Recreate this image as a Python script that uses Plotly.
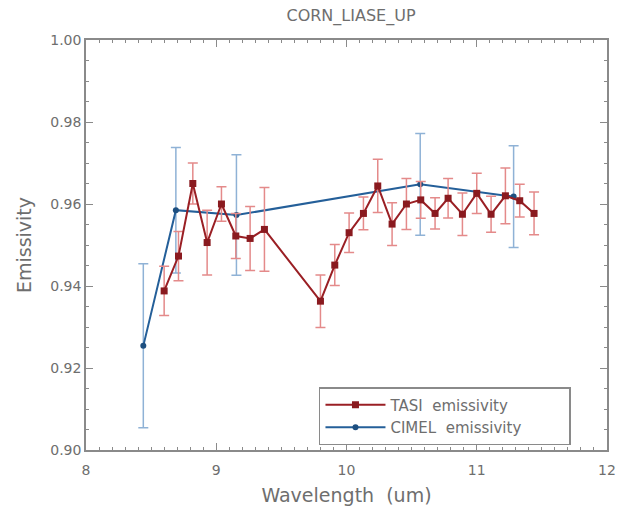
import plotly.graph_objects as go

# TASI data
x_tasi = [8.60, 8.71, 8.82, 8.93, 9.04, 9.15, 9.26, 9.37, 9.80, 9.91, 10.02, 10.13,
          10.24, 10.35, 10.46, 10.57, 10.68, 10.78, 10.89, 11.00, 11.11, 11.22, 11.33, 11.44]
y_tasi = [0.9388, 0.9473, 0.9650, 0.9506, 0.9600, 0.9522, 0.9516, 0.9538, 0.9363, 0.9451,
          0.9530, 0.9577, 0.9644, 0.9551, 0.9600, 0.9610, 0.9577, 0.9614, 0.9575, 0.9626,
          0.9575, 0.9620, 0.9608, 0.9577]
err_tasi = [0.0060, 0.0060, 0.0050, 0.0079, 0.0042, 0.0055, 0.0078, 0.0102, 0.0064, 0.0050,
            0.0048, 0.0040, 0.0065, 0.0052, 0.0062, 0.0045, 0.0038, 0.0048, 0.0052, 0.0049,
            0.0044, 0.0068, 0.0040, 0.0052]

# CIMEL data
x_cimel = [8.44, 8.69, 9.155, 10.566, 11.283]
y_cimel = [0.9254, 0.9585, 0.9573, 0.9648, 0.9618]
err_cimel = [0.0200, 0.0153, 0.0147, 0.0124, 0.0124]

x_ticks = [8, 9, 10, 11, 12]
y_ticks = [0.90, 0.92, 0.94, 0.96, 0.98, 1.00]

FONT = "DejaVu Sans"
TXT = "#6e6e6e"
AX = "#8a8a8a"
PAD = "\u00a0" * 9

fig = go.Figure()
fig.add_trace(go.Scatter(
    x=x_cimel, y=y_cimel, mode="lines+markers", name="CIMEL  emissivity" + PAD,
    line=dict(color="#245f99", width=2),
    marker=dict(symbol="circle", size=6, color="#1d4f80"),
    error_y=dict(type="data", array=err_cimel, color="#8fb2d6", thickness=1.5, width=5),
    legendrank=2,
))
fig.add_trace(go.Scatter(
    x=x_tasi, y=y_tasi, mode="lines+markers", name="TASI  emissivity",
    line=dict(color="#9a1f24", width=2),
    marker=dict(symbol="square", size=7, color="#8a1a1f"),
    error_y=dict(type="data", array=err_tasi, color="#e48a8a", thickness=1.5, width=5),
    legendrank=1,
))

axis_common = dict(
    showline=True, linecolor=AX, linewidth=1.5, mirror="allticks",
    ticks="inside", ticklen=7, tickcolor=AX, tickwidth=1,
    showgrid=False, zeroline=False,
    tickfont=dict(family=FONT, size=14, color=TXT),
)

fig.update_layout(
    width=626, height=516,
    margin=dict(l=86, r=10, t=40, b=66),
    plot_bgcolor="white", paper_bgcolor="white",
    title=dict(text="CORN_LIASE_UP", x=(86 + 616) / 2 / 626, xanchor="center",
               y=1 - 15 / 516, yanchor="middle",
               font=dict(family=FONT, size=16, color=TXT)),
    xaxis=dict(range=[8, 12], tickvals=x_ticks, ticktext=[str(v) for v in x_ticks],
               minor=dict(ticks="inside", ticklen=3, dtick=0.1, tickcolor=AX, showgrid=False),
               ticklabelstandoff=6,
               title=dict(text="Wavelength  (um)", font=dict(family=FONT, size=19, color=TXT),
                          standoff=12),
               **axis_common),
    yaxis=dict(range=[0.90, 1.00], tickvals=y_ticks, ticktext=[f"{v:.2f}" for v in y_ticks],
               minor=dict(ticks="inside", ticklen=3, dtick=0.005, tickcolor=AX, showgrid=False),
               title=dict(text="Emissivity", font=dict(family=FONT, size=19, color=TXT),
                          standoff=14),
               **axis_common),
    legend=dict(x=(323 - 86) / 530, y=(450 - 387) / 410, xanchor="left", yanchor="top",
                bordercolor=AX, borderwidth=1.5, bgcolor="white",
                font=dict(family=FONT, size=15, color=TXT),
                tracegroupgap=0, itemwidth=60),
    showlegend=True,
)

fig.write_html("out.html")
